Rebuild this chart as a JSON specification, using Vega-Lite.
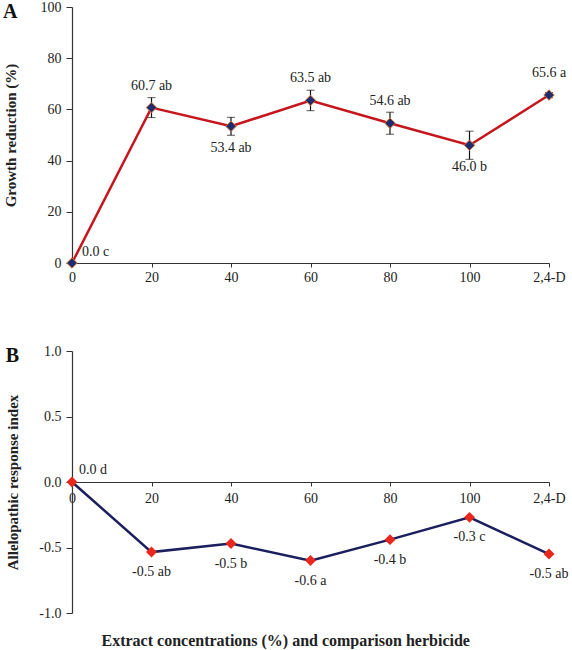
{
  "$schema": "https://vega.github.io/schema/vega-lite/v6.json",
  "description": "Growth reduction and allelopathic response index by extract concentration",
  "padding": {"left": 3, "top": 0, "right": 0, "bottom": 0},
  "datasets": {
    "d": [
      {"conc": "0", "gr": 0.0, "err": 0.0, "grlab": "0.0 c", "ari": 0.0, "arilab": "0.0 d"},
      {"conc": "20", "gr": 60.7, "err": 3.9, "grlab": "60.7 ab", "ari": -0.535, "arilab": "-0.5 ab"},
      {"conc": "40", "gr": 53.4, "err": 3.5, "grlab": "53.4 ab", "ari": -0.47, "arilab": "-0.5 b"},
      {"conc": "60", "gr": 63.5, "err": 4.0, "grlab": "63.5 ab", "ari": -0.6, "arilab": "-0.6 a"},
      {"conc": "80", "gr": 54.6, "err": 4.3, "grlab": "54.6 ab", "ari": -0.44, "arilab": "-0.4 b"},
      {"conc": "100", "gr": 46.0, "err": 5.5, "grlab": "46.0 b", "ari": -0.27, "arilab": "-0.3 c"},
      {"conc": "2,4-D", "gr": 65.6, "err": 1.0, "grlab": "65.6 a", "ari": -0.55, "arilab": "-0.5 ab"}
    ]
  },
  "title": {
    "text": "Extract concentrations (%) and comparison herbicide",
    "orient": "bottom",
    "anchor": "middle",
    "font": "Liberation Serif",
    "fontSize": 16,
    "fontWeight": "bold",
    "color": "#222",
    "offset": 13
  },
  "spacing": 60,
  "vconcat": [
    {
      "width": 477,
      "height": 256,
      "title": {"text": "A", "anchor": "start", "frame": "bounds", "fontSize": 20, "fontWeight": "bold", "font": "Liberation Serif", "color": "#111", "offset": -22},
      "data": {"name": "d"},
      "encoding": {
        "x": {
          "field": "conc",
          "type": "ordinal",
          "sort": ["0", "20", "40", "60", "80", "100", "2,4-D"],
          "scale": {"type": "point", "padding": 0},
          "axis": {"title": null, "labelAngle": 0, "tickSize": 4, "labelPadding": 3}
        },
        "y": {
          "field": "gr",
          "type": "quantitative",
          "scale": {"domain": [0, 100]},
          "axis": {"title": "Growth reduction (%)", "values": [0, 20, 40, 60, 80, 100], "tickSize": 6, "labelPadding": 5, "titlePadding": 22}
        }
      },
      "layer": [
        {"mark": {"type": "line", "color": "#c4161c", "strokeWidth": 2.5}},
        {
          "mark": {"type": "errorbar", "ticks": {"size": 8, "color": "#111"}, "rule": {"color": "#111", "strokeWidth": 1.2}},
          "encoding": {"yError": {"field": "err"}}
        },
        {"mark": {"type": "point", "shape": "diamond", "filled": true, "size": 110, "color": "#1f2d6e", "stroke": "#d9743a", "strokeWidth": 1, "opacity": 1}},
        {
          "transform": [{"filter": "indexof(['20', '60', '80', '2,4-D'], datum.conc) >= 0"}],
          "mark": {"type": "text", "dy": -22, "fontSize": 14, "font": "Liberation Serif", "color": "#222"},
          "encoding": {"text": {"field": "grlab"}}
        },
        {
          "transform": [{"filter": "datum.conc == '40' || datum.conc == '100'"}],
          "mark": {"type": "text", "dy": 22, "fontSize": 14, "font": "Liberation Serif", "color": "#222"},
          "encoding": {"text": {"field": "grlab"}}
        },
        {
          "transform": [{"filter": "datum.conc == '0'"}],
          "mark": {"type": "text", "align": "left", "dx": 10, "dy": -11, "fontSize": 14, "font": "Liberation Serif", "color": "#222"},
          "encoding": {"text": {"field": "grlab"}}
        }
      ]
    },
    {
      "width": 477,
      "height": 262,
      "title": {"text": "B", "anchor": "start", "frame": "bounds", "fontSize": 20, "fontWeight": "bold", "font": "Liberation Serif", "color": "#111", "offset": -22},
      "data": {"name": "d"},
      "encoding": {
        "x": {
          "field": "conc",
          "type": "ordinal",
          "sort": ["0", "20", "40", "60", "80", "100", "2,4-D"],
          "scale": {"type": "point", "padding": 0},
          "axis": {"title": null, "labelAngle": 0, "tickSize": 4, "labelPadding": 5, "offset": -131}
        },
        "y": {
          "field": "ari",
          "type": "quantitative",
          "scale": {"domain": [-1, 1]},
          "axis": {
            "title": "Allelopathic response index",
            "values": [-1, -0.5, 0, 0.5, 1],
            "labelExpr": "replace(format(datum.value, '.1f'), '\u2212', '-')",
            "tickSize": 6,
            "labelPadding": 5,
            "titlePadding": 18
          }
        }
      },
      "layer": [
        {"mark": {"type": "line", "color": "#1b1f5e", "strokeWidth": 2.5}},
        {"mark": {"type": "point", "shape": "diamond", "filled": true, "size": 120, "color": "#e8281c", "opacity": 1}},
        {
          "transform": [{"filter": "datum.conc == '0'"}],
          "mark": {"type": "text", "align": "left", "dx": 7, "dy": -12, "fontSize": 14, "font": "Liberation Serif", "color": "#222"},
          "encoding": {"text": {"field": "arilab"}}
        },
        {
          "transform": [{"filter": "datum.conc != '0'"}],
          "mark": {"type": "text", "dy": 20, "fontSize": 14, "font": "Liberation Serif", "color": "#222"},
          "encoding": {"text": {"field": "arilab"}}
        }
      ]
    }
  ],
  "config": {
    "font": "Liberation Serif",
    "view": {"stroke": null},
    "axis": {
      "grid": false,
      "labelFont": "Liberation Serif",
      "labelFontSize": 14,
      "labelColor": "#222",
      "titleFont": "Liberation Serif",
      "titleFontSize": 15,
      "titleFontWeight": "bold",
      "titleColor": "#222",
      "domainColor": "#333",
      "domainWidth": 1.2,
      "tickColor": "#333"
    }
  }
}
